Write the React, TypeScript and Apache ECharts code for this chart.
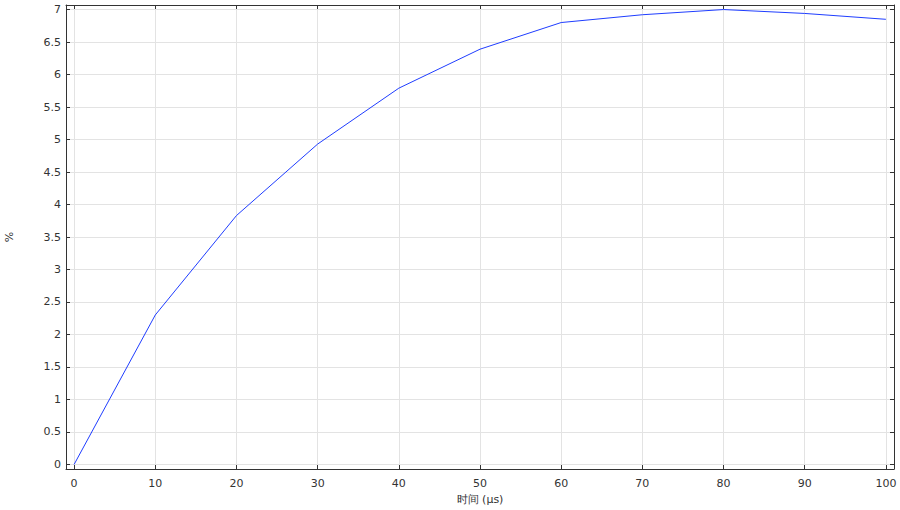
import React, { useEffect, useRef } from "react";
import * as echarts from "echarts";

const times = [0, 10, 20, 30, 40, 50, 60, 70, 80, 90, 100];
const percent = [0, 2.3, 3.83, 4.93, 5.79, 6.39, 6.8, 6.92, 7.0, 6.94, 6.85];
const xTicks = [0, 10, 20, 30, 40, 50, 60, 70, 80, 90, 100];
const yTicks = [0, 0.5, 1, 1.5, 2, 2.5, 3, 3.5, 4, 4.5, 5, 5.5, 6, 6.5, 7];
const xName = "时间 (μs)";
const yName = "%";

const FONT = "DejaVu Sans";

export default function App() {
  const ref = useRef<HTMLDivElement>(null);
  useEffect(() => {
    if (!ref.current) return;
    const chart = echarts.init(ref.current, null, { renderer: "svg" });
    const axisLine = { show: true, onZero: false, lineStyle: { color: "#333", width: 1 } };
    const tick = { show: true, inside: true, length: 4, lineStyle: { color: "#333" } };
    const split = { show: true, lineStyle: { color: "#e3e3e3", width: 1 } };
    const label = { color: "#333", fontSize: 11, fontFamily: FONT };
    chart.setOption({
      animation: false,
      backgroundColor: "#fff",
      grid: { left: 66, right: 6, top: 5, bottom: 41, containLabel: false, outerBoundsMode: "none" },
      xAxis: [
        {
          type: "value",
          min: -1,
          max: 101,
          position: "bottom",
          name: xName,
          nameLocation: "middle",
          nameGap: 25,
          nameTextStyle: { color: "#333", fontSize: 11, fontFamily: FONT },
          axisLine,
          axisTick: { ...tick, customValues: xTicks },
          axisLabel: { ...label, margin: 9, customValues: xTicks },
          splitLine: split,
        },
        {
          type: "value",
          min: -1,
          max: 101,
          position: "top",
          axisLine,
          axisTick: { ...tick, customValues: xTicks },
          axisLabel: { show: false, customValues: xTicks },
          splitLine: { show: false },
        },
      ],
      yAxis: [
        {
          type: "value",
          min: -0.07,
          max: 7.07,
          position: "left",
          name: yName,
          nameLocation: "middle",
          nameGap: 51,
          nameRotate: 90,
          nameTextStyle: { color: "#333", fontSize: 11, fontFamily: FONT },
          axisLine,
          axisTick: { ...tick, customValues: yTicks },
          axisLabel: { ...label, margin: 5, customValues: yTicks },
          splitLine: split,
        },
        {
          type: "value",
          min: -0.07,
          max: 7.07,
          position: "right",
          axisLine,
          axisTick: { ...tick, customValues: yTicks },
          axisLabel: { show: false, customValues: yTicks },
          splitLine: { show: false },
        },
      ],
      series: [
        {
          type: "line",
          data: times.map((t, i) => [t, percent[i]]),
          showSymbol: false,
          symbol: "none",
          lineStyle: { color: "#1f3dff", width: 1 },
          xAxisIndex: 0,
          yAxisIndex: 0,
        },
      ],
    });
    return () => chart.dispose();
  }, []);
  return <div ref={ref} style={{ width: 900, height: 510, position: "absolute", left: 0, top: 0 }} />;
}
